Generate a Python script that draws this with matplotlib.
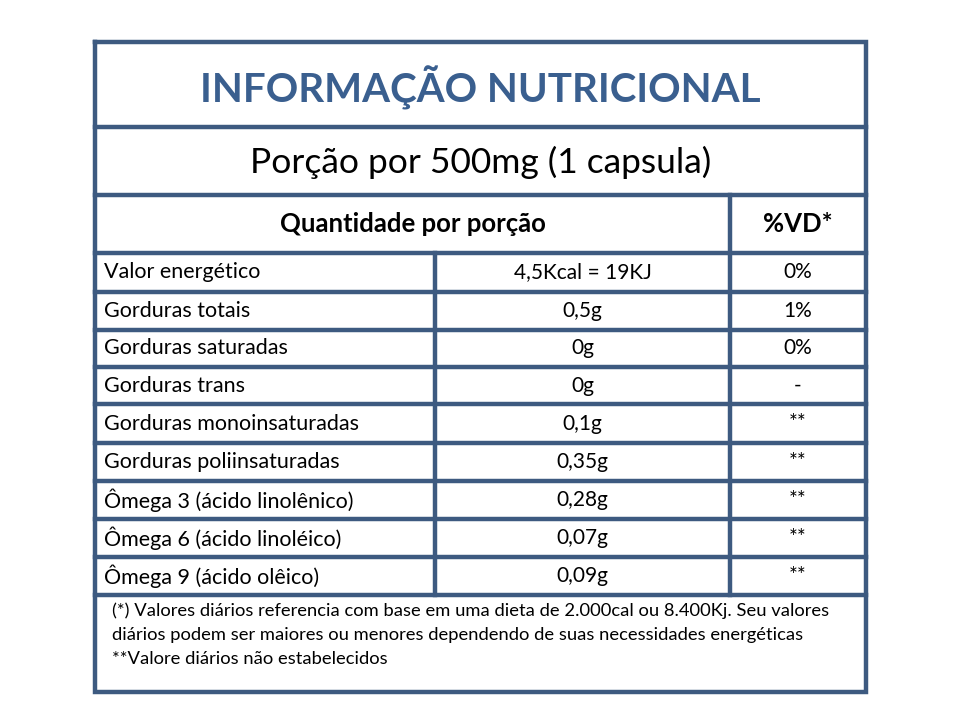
import matplotlib
matplotlib.use("Agg")
import matplotlib.pyplot as plt

title = "INFORMAÇÃO NUTRICIONAL"
portion = "Porção por 500mg (1 capsula)"
header_left = "Quantidade por porção"
header_right = "%VD*"
nutrients = ["Valor energético", "Gorduras totais", "Gorduras saturadas", "Gorduras trans",
             "Gorduras monoinsaturadas", "Gorduras poliinsaturadas", "Ômega 3 (ácido linolênico)",
             "Ômega 6 (ácido linoléico)", "Ômega 9 (ácido olêico)"]
amounts = ["4,5Kcal = 19KJ", "0,5g", "0g", "0g", "0,1g", "0,35g", "0,28g", "0,07g", "0,09g"]
dv = ["0%", "1%", "0%", "-", "**", "**", "**", "**", "**"]
footnote = ["(*) Valores diários referencia com base em uma dieta de 2.000cal ou 8.400Kj. Seu valores",
            "diários podem ser maiores ou menores dependendo de suas necessidades energéticas",
            "**Valore diários não estabelecidos"]

C = "#3d5a80"
FONT = "Lato"
fig = plt.figure(figsize=(9.6, 7.2), dpi=100)
ax = fig.add_axes([0, 0, 1, 1])
ax.set_xlim(0, 960); ax.set_ylim(720, 0); ax.axis("off")

L, R, T, B = 95, 866, 42, 692
c1, c2 = 435, 730
lw = 3.2
ax.plot([L, R, R, L, L], [T, T, B, B, T], color=C, lw=lw, solid_joinstyle="miter")
for y in [127, 195, 253]:
    ax.plot([L, R], [y, y], color=C, lw=lw)
row_edges = [253, 292, 330, 367, 404, 443, 481, 519, 557, 595]
for y in row_edges[1:]:
    ax.plot([L, R], [y, y], color=C, lw=lw)
ax.plot([c2, c2], [195, 595], color=C, lw=lw)
ax.plot([c1, c1], [253, 595], color=C, lw=lw)

ax.text((L + R) / 2, 88, title, ha="center", va="center", fontsize=29, fontweight="bold",
        color="#3a5f8f", family=FONT)
ax.text((L + R) / 2, 162, portion, ha="center", va="center", fontsize=25.5, color="black", family=FONT)
ax.text((L + c2) / 2, 224, header_left, ha="center", va="center", fontsize=18.5, fontweight="bold", family=FONT)
ax.text((c2 + R) / 2, 224, header_right, ha="center", va="center", fontsize=18.5, fontweight="bold", family=FONT)

for i, (n, a, d) in enumerate(zip(nutrients, amounts, dv)):
    yc = (row_edges[i] + row_edges[i + 1]) / 2
    ax.text(104, yc, n, ha="left", va="center", fontsize=15.5, family=FONT)
    ax.text((c1 + c2) / 2, yc, a, ha="center", va="center", fontsize=15, family=FONT)
    ax.text((c2 + R) / 2, yc, d, ha="center", va="center", fontsize=15, family=FONT)

for k, line in enumerate(footnote):
    ax.text(112, 611 + k * 24, line, ha="left", va="center", fontsize=13.2, family=FONT)

fig.savefig("out.png", dpi=100)
